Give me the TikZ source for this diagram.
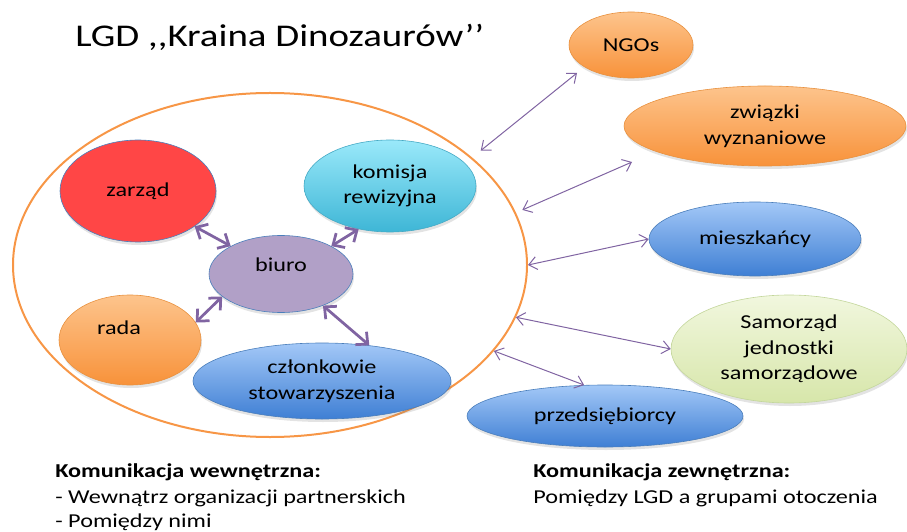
\documentclass[tikz,border=0pt]{standalone}
\usepackage{fontspec}
\setmainfont{Carlito}[FakeStretch=1.23]
\usepackage{xcolor}
\usepackage{tikz}
\usetikzlibrary{calc}
\usetikzlibrary{shapes.geometric}
\usetikzlibrary{shadows}
\usetikzlibrary{arrows.meta}

\definecolor{lgdorange}{HTML}{F79646}
\definecolor{bubbleline}{HTML}{4A7EBB}
\definecolor{orangeline}{HTML}{E8913F}
\definecolor{orangetop}{HTML}{FDC48C}
\definecolor{orangebot}{HTML}{F8923A}
\definecolor{bluetop}{HTML}{A3C8F7}
\definecolor{bluebot}{HTML}{3F7FD4}
\definecolor{cyantop}{HTML}{9AE9FA}
\definecolor{cyanbot}{HTML}{3EB6D6}
\definecolor{cyanline}{HTML}{46AAC5}
\definecolor{greentop}{HTML}{F1F7DE}
\definecolor{greenbot}{HTML}{D7E6AA}
\definecolor{greenline}{HTML}{C3D69B}
\definecolor{zarzadred}{HTML}{FF4646}
\definecolor{biurolilac}{HTML}{B1A0C7}
\definecolor{linkpurple}{HTML}{8064A2}

\tikzset{
  bubble/.style={ellipse, draw=bubbleline, line width=0.012cm, inner sep=0pt, align=center,
    drop shadow={opacity=0.22, shadow xshift=0.02cm, shadow yshift=-0.06cm}},
  orangebubble/.style={bubble, draw=orangeline, top color=orangetop, bottom color=orangebot},
  bluebubble/.style={bubble, top color=bluetop, bottom color=bluebot},
  innerlink/.style={draw=linkpurple, line width=0.055cm, >={Straight Barb[length=0.18cm,width=0.34cm]}, <->},
  outerlink/.style={draw=linkpurple, line width=0.02cm, >={Straight Barb[length=0.16cm,width=0.26cm]}, <->},
  caption/.style={anchor=base west, inner sep=0pt},
}

\begin{document}
\begin{tikzpicture}[font=\fontsize{11.2}{14.6}\selectfont]
            \useasboundingbox (0,0) rectangle (18.140000,10.620000);
            
            % Title
            \node [caption, font=\fontsize{18}{21}\selectfont] (title) at (1.500000,9.680000) {LGD {,}{,}Kraina Dinozaurów’’};%
            
            % Drawing the LGD ellipse
            \node [ellipse, draw=lgdorange, line width=0.04cm, minimum width=10.280000cm, minimum height=6.880000cm] (lgd) at (5.400000,5.320000) {};%
            
            % Marking inner bodies
            \node [bubble, fill=zarzadred, minimum width=3.120000cm, minimum height=2.040000cm] (zarzad) at (2.760000,6.800000) {zarząd};%
            \node [bubble, draw=cyanline, top color=cyantop, bottom color=cyanbot, minimum width=3.440000cm, minimum height=1.840000cm] (komisja) at (7.800000,6.900000) {komisja\\rewizyjna};%
            \node [bubble, fill=biurolilac, minimum width=2.880000cm, minimum height=1.540000cm, label={[yshift=0.18cm]center:biuro}] (biuro) at (5.620000,5.140000) {};%
            \node [orangebubble, minimum width=2.840000cm, minimum height=1.800000cm, label={[shift={(-0.22,0.24)}]center:rada}] (rada) at (2.600000,3.820000) {};%
            \node [bluebubble, minimum width=5.160000cm, minimum height=1.520000cm] (czlonkowie) at (6.440000,3.000000) {członkowie\\stowarzyszenia};%
            
            % Marking outer groups
            \node [orangebubble, minimum width=2.480000cm, minimum height=1.320000cm] (ngo) at (12.620000,9.720000) {NGOs};%
            \node [orangebubble, minimum width=5.640000cm, minimum height=1.600000cm] (zwiazki) at (15.300000,8.100000) {związki\\wyznaniowe};%
            \node [bluebubble, minimum width=4.240000cm, minimum height=1.480000cm] (mieszkancy) at (15.100000,5.840000) {mieszkańcy};%
            \node [bubble, draw=greenline, top color=greentop, bottom color=greenbot, minimum width=4.720000cm, minimum height=2.160000cm] (samorzad) at (15.780000,3.640000) {Samorząd\\jednostki\\samorządowe};%
            \node [bluebubble, minimum width=5.520000cm, minimum height=1.240000cm] (przedsiebiorcy) at (12.100000,2.300000) {przedsiębiorcy};%
            
            % Drawing inner links
            \draw [innerlink] (zarzad.-32) -- (biuro.151);%
            \draw [innerlink] (komisja.234) -- (biuro.29);%
            \draw [innerlink] (rada.15) -- (biuro.201);%
            \draw [innerlink] (biuro.-37) -- (czlonkowie.37);%
            
            % Drawing outer links
            \coordinate (ngo-end) at (11.540000,9.160000);%
            \coordinate (zwiazki-end) at (12.640000,7.380000);%
            \draw [outerlink, shorten <=0.22cm] (lgd.28) -- (ngo-end);%
            \draw [outerlink, shorten <=0.14cm] (lgd.12) -- (zwiazki-end);%
            \draw [outerlink] (lgd.0) -- (mieszkancy.west);%
            \draw [outerlink] (lgd.-12) -- (samorzad.west);%
            \draw [outerlink] (lgd.-21) -- (przedsiebiorcy.124);%
            
            % Captions
            {\fontsize{11.7}{14.7}\selectfont
            \node [caption] (wew-head) at (1.100000,1.080000) {\bfseries Komunikacja wewnętrzna:};%
            \node [caption] (wew-one) at (1.100000,0.560000) {- Wewnątrz organizacji partnerskich};%
            \node [caption] (wew-two) at (1.100000,0.080000) {- Pomiędzy nimi};%
            \node [caption] (zew-head) at (10.660000,1.080000) {\bfseries Komunikacja zewnętrzna:};%
            \node [caption] (zew-one) at (10.660000,0.560000) {Pomiędzy LGD a grupami otoczenia};%
            }
\end{tikzpicture}
\end{document}
